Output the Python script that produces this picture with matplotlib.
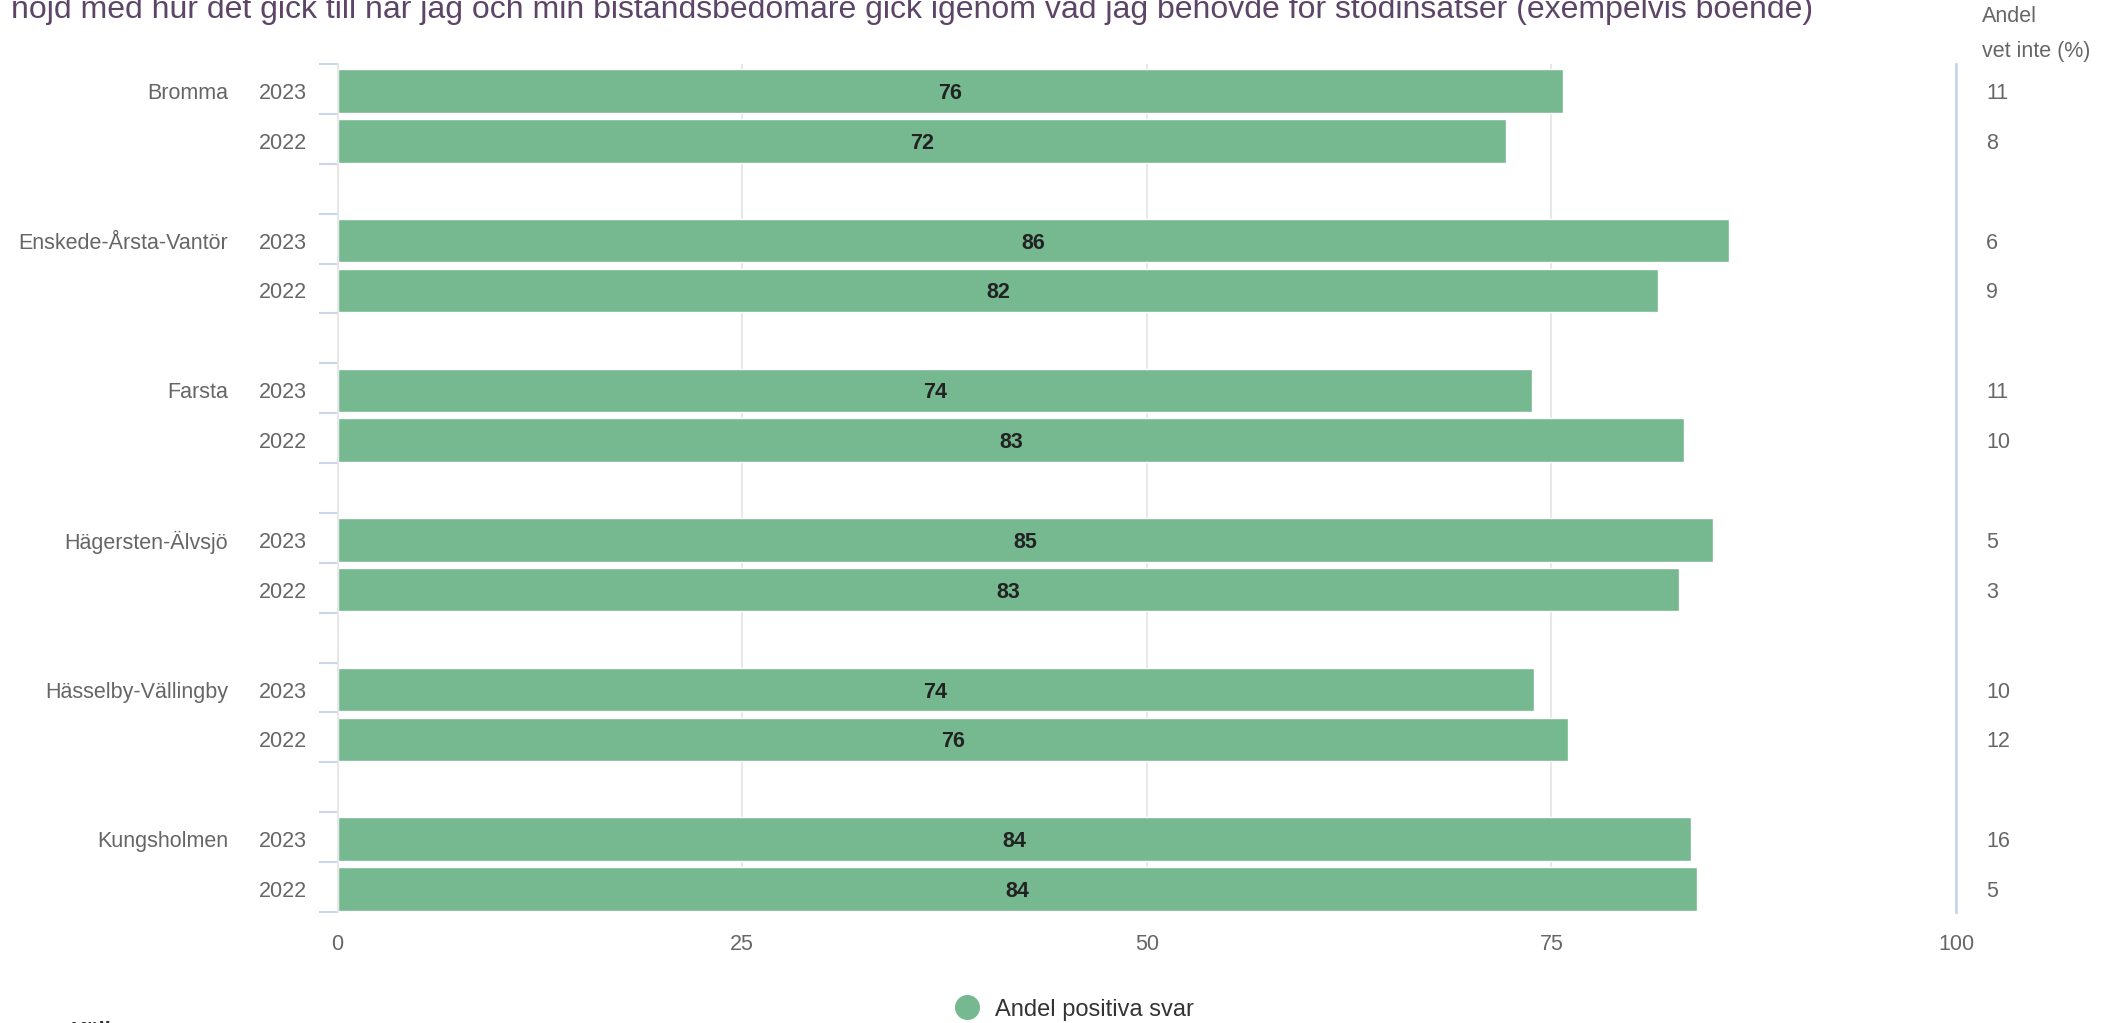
import matplotlib
matplotlib.use("Agg")
import matplotlib.pyplot as plt
from matplotlib.lines import Line2D
from matplotlib.transforms import blended_transform_factory

plt.rcParams['font.family'] = ['Liberation Sans', 'DejaVu Sans']

# data
districts = ["Bromma", "Enskede-Årsta-Vantör", "Farsta", "Hägersten-Älvsjö",
             "Hässelby-Vällingby", "Kungsholmen"]
years = ["2023", "2022"]
positive_2023 = [75.7, 86.0, 73.8, 85.0, 73.9, 83.6]
positive_2022 = [72.2, 81.6, 83.2, 82.9, 76.0, 84.0]
dont_know_2023 = [11, 6, 11, 5, 10, 16]
dont_know_2022 = [8, 9, 10, 3, 12, 5]
x_ticks = [0, 25, 50, 75, 100]

title = ("nöjd med hur det gick till när jag och min biståndsbedömare gick igenom "
         "vad jag behövde för stödinsatser (exempelvis boende)")

W, H = 2126, 1023
fig = plt.figure(figsize=(W / 100, H / 100), dpi=100)

left, right, top, bottom = 337.6, 1956, 64, 912
ax = fig.add_axes([left / W, 1 - bottom / H, (right - left) / W, (bottom - top) / H])

bar_color = "#76b990"
label_gray = "#666666"

n_slots = len(districts) * 3 - 1
ax.set_xlim(0, 100)
ax.set_ylim(n_slots, 0)

tr = blended_transform_factory(fig.transFigure, ax.transData)
for g, name in enumerate(districts):
    vals = [positive_2023[g], positive_2022[g]]
    dk = [dont_know_2023[g], dont_know_2022[g]]
    for j, yr in enumerate(years):
        y = g * 3 + j + 0.54
        ty = y + 0.05  # text sits a bit lower than the bar centre
        ax.barh(y, vals[j], height=0.87, color=bar_color, edgecolor="white",
                linewidth=1, zorder=2)
        ax.text(vals[j] / 2, ty, f"{vals[j]:.0f}", ha="center", va="center",
                fontsize=15.5, fontweight="bold", color="#222222", zorder=3)
        ax.text(307 / W, ty, yr, transform=tr, ha="right", va="center",
                fontsize=15.5, color=label_gray)
        ax.text(1986 / W, ty, str(dk[j]), transform=tr, ha="left", va="center",
                fontsize=15.5, color=label_gray)
        if j == 0:
            ax.text(228 / W, ty, name, transform=tr, ha="right", va="center",
                    fontsize=15.5, color=label_gray)

ax.set_yticks(range(n_slots + 1))
ax.set_yticklabels([])
ax.tick_params(axis="y", length=13.7, width=1.5, color="#ccd6eb")
ax.set_xticks(x_ticks)
ax.set_xticklabels([str(t) for t in x_ticks])
ax.tick_params(axis="x", length=0, pad=16, labelsize=15.5, labelcolor=label_gray)

ax.grid(axis="x", color="#e6e6e6", linewidth=1.3, zorder=0)
ax.set_axisbelow(True)
for s in ["top", "right", "bottom"]:
    ax.spines[s].set_visible(False)
ax.spines["left"].set_color("#e6e6e6")
ax.spines["left"].set_linewidth(1.3)
ax.axvline(100, color="#ccd6eb", linewidth=2, clip_on=False, zorder=4)

# header for the right column
fig.text(1982 / W, 1 - 17 / H, "Andel", ha="left", va="center",
         fontsize=15.5, color=label_gray)
fig.text(1982 / W, 1 - 52 / H, "vet inte (%)", ha="left", va="center",
         fontsize=15.5, color=label_gray)

# title (partly cut off at the top, as in the original)
fig.text(11 / W, 1 - 18 / H, title, ha="left", va="baseline",
         fontsize=23, color="#5c4566")

# legend
fig.add_artist(Line2D([967 / W], [1 - 1007 / H], marker="o", markersize=17,
                      color=bar_color, linestyle="", transform=fig.transFigure))
fig.text(995 / W, 1 - 1010 / H, "Andel positiva svar", ha="left", va="center",
         fontsize=17, color="#333333")

fig.text(70 / W, 1 - 1021 / H, "Källa", ha="left", va="top",
         fontsize=16, fontweight="bold", color="#333333")

fig.savefig("out.png", dpi=100)
